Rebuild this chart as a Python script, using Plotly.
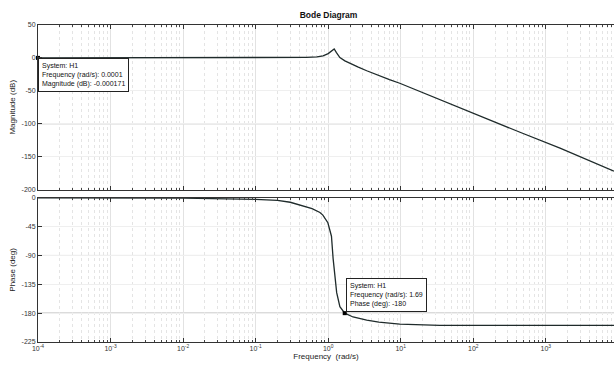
import plotly.graph_objects as go
import numpy as np

# ---- data ----
mag_freq = [1e-4, 1e-3, 1e-2, 0.1, 0.3, 0.5, 0.7, 0.85, 1.0, 1.1, 1.21, 1.3, 1.45,
            1.7, 2.0, 2.6, 3.4, 5.0, 7.0, 9.7, 15.7, 30, 100, 164, 441, 1570, 8700]
mag_db = [0, 0, 0, 0, 0.3, 0.8, 1.6, 3, 6.5, 10, 13.6, 8, 0.5,
          -4.5, -8.5, -14, -19.5, -27, -33, -38.5, -48, -60.5, -84, -93.5, -113, -137, -172]

ph_freq = [1e-4, 1e-3, 1e-2, 0.1, 0.2, 0.3, 0.41, 0.6, 0.77, 0.845, 0.99, 1.11, 1.17,
           1.24, 1.31, 1.45, 1.69, 2.2, 3.4, 5.0, 9.7, 34.6, 1000, 8700]
ph_deg = [0, -0.1, -0.5, -2.5, -4, -7, -11, -17, -23, -27, -39, -60, -95,
          -123, -148, -170, -180, -186, -191, -194, -197, -199, -199, -199]

tip_mag = {"sys": "H1", "f": 0.0001, "v": 0, "label": "-0.000171"}
tip_ph = {"sys": "H1", "f": 1.69, "v": -180, "label": "-180"}

x_major = [1e-4, 1e-3, 1e-2, 1e-1, 1e0, 1e1, 1e2, 1e3, 1e4]
x_major_text = ["10<sup>-4</sup>", "10<sup>-3</sup>", "10<sup>-2</sup>", "10<sup>-1</sup>",
                "10<sup>0</sup>", "10<sup>1</sup>", "10<sup>2</sup>", "10<sup>3</sup>", "10<sup>4</sup>"]
mag_ticks = [50, 0, -50, -100, -150, -200]
ph_ticks = [0, -45, -90, -135, -180, -225]

x_minor = [m * d for d in x_major[:-1] for m in range(2, 10)]

LINE = "#1f2b2b"
FONT = "Liberation Sans, Arial, sans-serif"

fig = go.Figure()
fig.add_trace(go.Scatter(x=mag_freq, y=mag_db, mode="lines",
                         line=dict(color=LINE, width=1.3), xaxis="x", yaxis="y",
                         showlegend=False, hoverinfo="skip"))
fig.add_trace(go.Scatter(x=ph_freq, y=ph_deg, mode="lines",
                         line=dict(color=LINE, width=1.3), xaxis="x2", yaxis="y2",
                         showlegend=False, hoverinfo="skip"))
fig.add_trace(go.Scatter(x=[tip_mag["f"]], y=[tip_mag["v"]], mode="markers",
                         marker=dict(color="black", size=4, symbol="square"),
                         xaxis="x", yaxis="y", showlegend=False, cliponaxis=False))
fig.add_trace(go.Scatter(x=[tip_ph["f"]], y=[tip_ph["v"]], mode="markers",
                         marker=dict(color="black", size=4, symbol="square"),
                         xaxis="x2", yaxis="y2", showlegend=False))

xcommon = dict(type="log", range=[-4, 3.94], tickmode="array", tickvals=x_major,
               ticks="inside", ticklen=4, tickcolor="#333", mirror="ticks",
               showline=True, linecolor="#333", linewidth=1, automargin=False,
               showgrid=True, gridcolor="#e2e2e2", gridwidth=0.6,
               minor=dict(tickmode="array", tickvals=x_minor, ticks="inside", ticklen=2,
                          tickcolor="#444", showgrid=True, gridcolor="#e4e4e4",
                          griddash="dot", gridwidth=0.6),
               zeroline=False)
ycommon = dict(tickmode="array", ticks="inside", ticklen=4, tickcolor="#333",
               showline=True, linecolor="#333", linewidth=1, mirror=False, automargin=False,
               showgrid=True, gridcolor="#efefef", gridwidth=0.6, zeroline=False,
               tickfont=dict(size=7, color="#333", family=FONT))

fig.update_layout(
    width=614, height=367,
    margin=dict(l=38, r=0, t=25, b=25, autoexpand=False),
    plot_bgcolor="white", paper_bgcolor="white",
    font=dict(family=FONT, size=7, color="#222"),
    xaxis=dict(**xcommon, domain=[0, 1], anchor="y", showticklabels=False, matches="x2"),
    xaxis2=dict(**xcommon, domain=[0, 1], anchor="y2", ticktext=x_major_text,
                tickfont=dict(size=7, color="#333", family=FONT),
                title=dict(text="Frequency  (rad/s)", font=dict(size=8, color="#222"), standoff=0)),
    yaxis=dict(**ycommon, domain=[0.481, 1], range=[-200, 50], tickvals=mag_ticks,
               ticktext=[str(v) for v in mag_ticks],
               title=dict(text="Magnitude (dB)", font=dict(size=8, color="#222"), standoff=4)),
    yaxis2=dict(**ycommon, domain=[0, 0.455], range=[-225, 0], tickvals=ph_ticks,
                ticktext=[str(v) for v in ph_ticks],
                title=dict(text="Phase (deg)", font=dict(size=8, color="#222"), standoff=4)),
    title=dict(text="<b>Bode Diagram</b>", x=0.535, xanchor="center", y=0.958, yanchor="middle",
               xref="container", yref="container", font=dict(size=8.5, color="#111", family=FONT)),
)

# darker horizontal reference gridlines as in the reference image
for yv in [-100]:
    fig.add_shape(type="line", xref="x domain", yref="y", x0=0, x1=1, y0=yv, y1=yv,
                  line=dict(color="#9a9a9a", width=1), layer="below")
for yv in [-90, -180]:
    fig.add_shape(type="line", xref="x2 domain", yref="y2", x0=0, x1=1, y0=yv, y1=yv,
                  line=dict(color="#9a9a9a", width=1), layer="below")

fig.add_annotation(x=np.log10(tip_mag["f"]), y=tip_mag["v"], xref="x", yref="y",
                   text=f"System: {tip_mag['sys']}<br>Frequency (rad/s): {tip_mag['f']}<br>Magnitude (dB): {tip_mag['label']}",
                   showarrow=False, xanchor="left", yanchor="top", align="left",
                   bgcolor="white", bordercolor="#222", borderwidth=1, borderpad=3,
                   font=dict(size=7, color="#111", family=FONT))
fig.add_annotation(x=np.log10(tip_ph["f"]), y=tip_ph["v"], xref="x2", yref="y2",
                   text=f"System: {tip_ph['sys']}<br>Frequency (rad/s): {tip_ph['f']}<br>Phase (deg): {tip_ph['label']}",
                   showarrow=False, xanchor="left", yanchor="bottom", align="left",
                   xshift=1, yshift=1,
                   bgcolor="white", bordercolor="#222", borderwidth=1, borderpad=3,
                   font=dict(size=7, color="#111", family=FONT))

fig.write_html("out.html", config={"displayModeBar": False},
               post_script="document.body.style.margin='0';document.body.style.overflow='hidden';")
